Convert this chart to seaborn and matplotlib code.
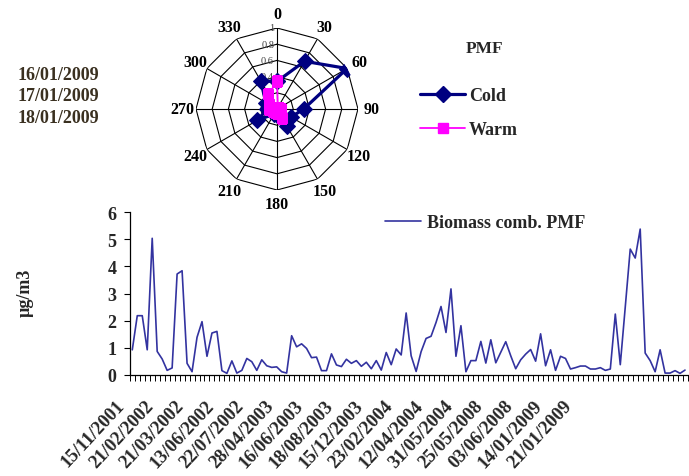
import numpy as np
import pandas as pd
import matplotlib
matplotlib.use('Agg')
import matplotlib.pyplot as plt
import seaborn as sns
from matplotlib import transforms
from matplotlib.lines import Line2D

# ---------------- data ----------------
directions = [0, 30, 60, 90, 120, 150, 180, 210, 240, 270, 300, 330]
cold = [0.34, 0.68, 1.00, 0.33, 0.20, 0.24, 0.07, 0.07, 0.28, 0.12, 0.16, 0.40]
warm = [0.34, 0.02, 0.03, 0.05, 0.06, 0.13, 0.05, 0.04, 0.05, 0.10, 0.12, 0.21]
radial_ticks = [0, 0.2, 0.4, 0.6, 0.8, 1]
radial_labels = ['0', '0.2', '0.4', '0.6', '0.8', '1']
episode_dates = ['16/01/2009', '17/01/2009', '18/01/2009']

biomass = [0.92, 2.18, 2.18, 0.92, 5.04, 0.86, 0.58, 0.16, 0.25, 3.72,
           3.84, 0.42, 0.11, 1.38, 1.96, 0.68, 1.54, 1.60, 0.15, 0.05,
           0.51, 0.06, 0.16, 0.60, 0.48, 0.16, 0.55, 0.33, 0.27, 0.29,
           0.11, 0.06, 1.44, 1.03, 1.14, 0.97, 0.63, 0.65, 0.15, 0.15,
           0.77, 0.36, 0.30, 0.57, 0.42, 0.52, 0.31, 0.46, 0.22, 0.52,
           0.17, 0.82, 0.37, 0.95, 0.73, 2.28, 0.70, 0.12, 0.85, 1.34,
           1.42, 1.93, 2.52, 1.56, 3.17, 0.68, 1.81, 0.11, 0.52, 0.52,
           1.23, 0.43, 1.29, 0.44, 0.83, 1.22, 0.70, 0.22, 0.55, 0.76,
           0.93, 0.50, 1.51, 0.33, 0.92, 0.16, 0.68, 0.60, 0.21, 0.26,
           0.32, 0.32, 0.21, 0.21, 0.26, 0.16, 0.21, 2.24, 0.37, 2.50,
           4.64, 4.31, 5.38, 0.80, 0.52, 0.11, 0.92, 0.06, 0.06, 0.15,
           0.05, 0.17]
date_labels = ['15/11/2001', '21/02/2002', '21/03/2002', '13/06/2002',
               '22/07/2002', '28/04/2003', '16/06/2003', '18/08/2003',
               '15/12/2003', '23/02/2004', '12/04/2004', '31/05/2004',
               '25/05/2008', '03/06/2008', '14/01/2009', '21/01/2009']
label_step = 6
y_ticks = [0, 1, 2, 3, 4, 5, 6]

# ---------------- style ----------------
sns.set_style('white')
plt.rcParams['font.family'] = ['Liberation Serif', 'DejaVu Serif']
plt.rcParams['font.weight'] = 'bold'

W, H = 689, 477
fig = plt.figure(figsize=(W / 100, H / 100), dpi=100)
fig.patch.set_facecolor('white')

NAVY = '#000080'
MAGENTA = '#FF00FF'
LINEBLUE = '#3333A0'

# ---------------- radar chart ----------------
cx, cy, R = 277, 110, 81
pax = fig.add_axes([(cx - R) / W, 1 - (cy + R) / H, 2 * R / W, 2 * R / H],
                   projection='polar')
pax.set_theta_zero_location('N')
pax.set_theta_direction(-1)
pax.grid(False)
pax.spines['polar'].set_visible(False)
pax.patch.set_alpha(0)

th = np.deg2rad(directions + [360])
for lev in radial_ticks[1:]:
    pax.plot(th, [lev] * len(th), color='black', lw=0.8, zorder=1)
for t in th[:-1]:
    pax.plot([t, t], [0, 1], color='black', lw=0.8, zorder=1)

off = transforms.offset_copy(pax.transData, fig=fig, x=-3, y=0, units='dots')
for v, s in zip(radial_ticks, radial_labels):
    pax.text(0, v, s, transform=off, ha='right', va='center', fontsize=7.5,
             fontweight='normal', color='#404040', zorder=2)

df_cold = pd.DataFrame({'theta': th, 'r': cold + cold[:1]})
df_warm = pd.DataFrame({'theta': th, 'r': warm + warm[:1]})
sns.lineplot(data=df_cold, x='theta', y='r', ax=pax, sort=False, color=NAVY,
             lw=2.3, marker='D', markersize=8, markeredgecolor=NAVY,
             markerfacecolor=NAVY, legend=False, zorder=4)
sns.lineplot(data=df_warm, x='theta', y='r', ax=pax, sort=False, color=MAGENTA,
             lw=1.3, marker='s', markersize=6.5, markeredgecolor=MAGENTA,
             markerfacecolor=MAGENTA, legend=False, zorder=5)
pax.set_ylim(0, 1)
pax.set_xticks([])
pax.set_yticks([])
pax.set_xlabel('')
pax.set_ylabel('')
for d in directions:
    pax.text(np.deg2rad(d), 1.17, str(d), ha='center', va='center',
             fontsize=11.5, fontweight='bold', color='black')

fig.text(485 / W, 1 - 49 / H, 'PMF', ha='center', va='center',
         fontsize=12.5, fontweight='bold')
handles = [Line2D([], [], color=NAVY, lw=2.3, marker='D', ms=8),
           Line2D([], [], color=MAGENTA, lw=1.3, marker='s', ms=6.5)]
fig.legend(handles, ['Cold', 'Warm'], loc='center left',
           bbox_to_anchor=(420 / W, 1 - 113.5 / H), frameon=False,
           prop={'weight': 'bold', 'size': 13}, handlelength=2.5,
           handletextpad=0.2, labelspacing=0.95, borderpad=0, borderaxespad=0)

for i, s in enumerate(episode_dates):
    fig.text(18 / W, 1 - (75 + 21.8 * i) / H, s, ha='left', va='center',
             fontsize=13, fontweight='bold', color='#3a3020')

# ---------------- time series ----------------
x0, x1, ytop, ybot = 129.8, 687.5, 213.3, 375.7
ax = fig.add_axes([x0 / W, 1 - ybot / H, (x1 - x0) / W, (ybot - ytop) / H])
n = len(biomass)
df = pd.DataFrame({'cat': np.arange(n), 'val': biomass})
sns.lineplot(data=df, x='cat', y='val', ax=ax, color=LINEBLUE, lw=1.2,
             label='Biomass comb. PMF')
ax.set_xlim(-0.5, n - 0.5)
ax.set_ylim(0, 6)
ax.set_xlabel('')
ax.set_ylabel('µg/m3', fontsize=13, fontweight='bold')
ax.yaxis.set_label_coords((34 - x0) / (x1 - x0), (ybot - 293) / (ybot - ytop))
for sp in ['top', 'right']:
    ax.spines[sp].set_visible(False)
for sp in ['left', 'bottom']:
    ax.spines[sp].set_color('black')
    ax.spines[sp].set_linewidth(0.9)

ax.set_yticks(y_ticks)
ax.set_yticklabels([str(v) for v in y_ticks], fontsize=13, fontweight='bold')
ax.tick_params(axis='y', direction='out', length=4.5, width=0.8, pad=5,
               color='black', left=True)

label_pos = np.arange(len(date_labels)) * label_step
ax.set_xticks(label_pos)
ax.set_xticklabels(date_labels, fontsize=13.5, fontweight='bold',
                   rotation=47, ha='right', va='center', rotation_mode='anchor')
ax.set_xticks(np.arange(-0.5, n, 1), minor=True)
ax.tick_params(axis='x', which='major', length=0, pad=20)
ax.tick_params(axis='x', which='minor', direction='out', length=4, width=0.7,
               color='black', bottom=True)
shift = transforms.ScaledTranslation(-11 / 100, 0, fig.dpi_scale_trans)
for lab in ax.get_xticklabels():
    lab.set_transform(lab.get_transform() + shift)

ax.legend(loc='center left', bbox_to_anchor=(385 / W, 1 - 224 / H),
          bbox_transform=fig.transFigure, frameon=False,
          prop={'weight': 'bold', 'size': 13}, handlelength=2.0,
          handletextpad=0.35, borderpad=0, borderaxespad=0)

fig.savefig('out.png', dpi=100, facecolor='white')
